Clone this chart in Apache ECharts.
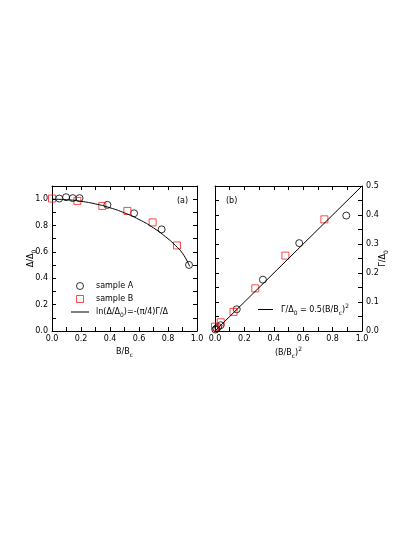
<!DOCTYPE html>
<html>
<head>
<meta charset="utf-8">
<script src="https://cdn.jsdelivr.net/npm/echarts@6/dist/echarts.min.js"></script>
<style>
  html, body { margin: 0; padding: 0; background: #fff; }
  #main { width: 415px; height: 537px; }
</style>
</head>
<body>
<div id="main"></div>
<script>
// panel (a): gap vs field
const bA = [0.05, 0.097, 0.143, 0.19, 0.382, 0.566, 0.756, 0.945]
const gapA = [1.005, 1.015, 1.008, 1.008, 0.957, 0.893, 0.771, 0.501]
const bB = [0.0, 0.175, 0.347, 0.52, 0.694, 0.862]
const gapB = [1.005, 0.987, 0.949, 0.911, 0.824, 0.649]
const fitX = [0, 0.1, 0.2, 0.3, 0.4, 0.5, 0.6, 0.7, 0.8, 0.85, 0.9, 0.95]
const fitY = [1.0, 0.996, 0.984, 0.964, 0.935, 0.896, 0.846, 0.782, 0.7, 0.65, 0.59, 0.49]

// panel (b): broadening vs field squared
const b2A = [0.003, 0.01, 0.021, 0.038, 0.148, 0.326, 0.573, 0.893]
const gamA = [0.005, 0.008, 0.014, 0.02, 0.075, 0.177, 0.303, 0.398]
const b2B = [0.0, 0.039, 0.126, 0.274, 0.479, 0.744]
const gamB = [0.015, 0.03, 0.066, 0.147, 0.26, 0.385]
const lineX = [0, 1]
const lineY = [0, 0.5]

const xTicks = ['0.0', '0.2', '0.4', '0.6', '0.8', '1.0']
const yTicksA = ['0.0', '0.2', '0.4', '0.6', '0.8', '1.0']
const yTicksB = ['0.0', '0.1', '0.2', '0.3', '0.4', '0.5']

const FONT = 'DejaVu Sans'
const RED = '#ff1a1a'

const zip = (xs, ys) => xs.map((x, i) => [x, ys[i]])

// only print the labels that are in the tick list
const pick = (list) => (v) => {
  const s = v.toFixed(1)
  return list.includes(s) && Math.abs(v - parseFloat(s)) < 1e-6 ? s : ''
}

const rich = {
  n: { fontFamily: FONT, fontSize: 8, color: '#000', lineHeight: 13 },
  s: { fontFamily: FONT, fontSize: 6, color: '#000', lineHeight: 6, verticalAlign: 'bottom' },
  p: { fontFamily: FONT, fontSize: 6, color: '#000', lineHeight: 6, verticalAlign: 'top' }
}

function axis(grid, position, opts) {
  return Object.assign({
    type: 'value',
    gridIndex: grid,
    position,
    min: 0,
    max: 1,
    interval: 0.1,
    axisLine: { show: true, onZero: false, lineStyle: { color: '#000', width: 1 } },
    axisTick: { show: true, inside: true, length: 4, lineStyle: { color: '#000', width: 1 } },
    axisLabel: { show: false },
    splitLine: { show: false }
  }, opts)
}

const labelStyle = { show: true, fontFamily: FONT, fontSize: 8, color: '#000', margin: 4 }

const chart = echarts.init(document.getElementById('main'))

const option = {
  backgroundColor: '#fff',
  animation: false,
  grid: [
    { left: 52, top: 186, width: 145, height: 145 },
    { left: 215, top: 186, width: 147, height: 145 }
  ],
  xAxis: [
    axis(0, 'bottom', {
      axisLabel: Object.assign({}, labelStyle, { formatter: pick(xTicks), showMaxLabel: true }),
      name: '{n|B/B}{s|c}',
      nameLocation: 'middle',
      nameGap: 14,
      nameTextStyle: { rich }
    }),
    axis(0, 'top'),
    axis(1, 'bottom', {
      axisLabel: Object.assign({}, labelStyle, { formatter: pick(xTicks), showMaxLabel: true }),
      name: '{n|(B/B}{s|c}{n|)}{p|2}',
      nameLocation: 'middle',
      nameGap: 15,
      nameTextStyle: { rich }
    }),
    axis(1, 'top')
  ],
  yAxis: [
    axis(0, 'left', {
      max: 1.1,
      axisLabel: Object.assign({}, labelStyle, { formatter: pick(yTicksA) }),
      name: '{n|Δ/Δ}{s|0}',
      nameLocation: 'middle',
      nameRotate: 90,
      nameGap: 15,
      nameMoveOverlap: false,
      nameTextStyle: { rich }
    }),
    axis(0, 'right', { max: 1.1 }),
    axis(1, 'left', { max: 0.5, interval: 0.05 }),
    axis(1, 'right', {
      max: 0.5,
      interval: 0.05,
      axisLabel: Object.assign({}, labelStyle, { formatter: pick(yTicksB) }),
      name: '{n|Γ/Δ}{s|0}',
      nameLocation: 'middle',
      nameRotate: 90,
      nameGap: 14,
      nameMoveOverlap: false,
      nameTextStyle: { rich }
    })
  ],
  legend: [
    {
      orient: 'vertical',
      left: 66,
      top: 277,
      itemWidth: 18,
      itemHeight: 7,
      itemGap: 5,
      selectedMode: false,
      data: [
        { name: 'sample A', icon: 'circle', itemStyle: { color: 'rgba(0,0,0,0)', borderColor: '#000', borderWidth: 1 } },
        { name: 'sample B', icon: 'path://M0,0L10,0L10,10L0,10Z', itemStyle: { color: 'rgba(0,0,0,0)', borderColor: RED, borderWidth: 1 } },
        { name: 'fitA', icon: 'path://M0,0L18,0L18,1L0,1Z', itemStyle: { color: '#000', borderWidth: 0 } }
      ],
      formatter: (name) => name === 'fitA' ? '{n|ln(Δ/Δ}{s|0}{n|)=-(π/4)Γ/Δ}' : '{n|' + name + '}',
      textStyle: { rich, padding: [0, 0, 0, 2] }
    },
    {
      left: 253,
      top: 298,
      itemWidth: 15,
      itemHeight: 7,
      selectedMode: false,
      data: [
        { name: 'fitB', icon: 'path://M0,0L15,0L15,1L0,1Z', itemStyle: { color: '#000', borderWidth: 0 } }
      ],
      formatter: () => '{n|Γ/Δ}{s|0}{n| = 0.5(B/B}{s|c}{n|)}{p|2}',
      textStyle: { rich, padding: [0, 0, 0, 3] }
    }
  ],
  graphic: [
    { type: 'text', left: 177, top: 197, style: { text: '(a)', font: '8px "DejaVu Sans"', fill: '#000' } },
    { type: 'text', left: 226, top: 197, style: { text: '(b)', font: '8px "DejaVu Sans"', fill: '#000' } }
  ],
  series: [
    {
      name: 'fitA',
      type: 'line',
      xAxisIndex: 0,
      yAxisIndex: 0,
      smooth: true,
      symbol: 'none',
      lineStyle: { color: '#000', width: 1 },
      itemStyle: { color: '#000' },
      data: zip(fitX, fitY)
    },
    {
      name: 'sample A',
      type: 'scatter',
      xAxisIndex: 0,
      yAxisIndex: 0,
      symbol: 'circle',
      symbolSize: 7,
      itemStyle: { color: 'rgba(0,0,0,0)', borderColor: '#000', borderWidth: 1 },
      data: zip(bA, gapA)
    },
    {
      name: 'sample B',
      type: 'scatter',
      xAxisIndex: 0,
      yAxisIndex: 0,
      symbol: 'rect',
      symbolSize: 7,
      itemStyle: { color: 'rgba(0,0,0,0)', borderColor: RED, borderWidth: 1 },
      data: zip(bB, gapB)
    },
    {
      name: 'fitB',
      type: 'line',
      xAxisIndex: 2,
      yAxisIndex: 3,
      symbol: 'none',
      lineStyle: { color: '#000', width: 1 },
      itemStyle: { color: '#000' },
      data: zip(lineX, lineY)
    },
    {
      name: 'sample A',
      type: 'scatter',
      xAxisIndex: 2,
      yAxisIndex: 3,
      symbol: 'circle',
      symbolSize: 7,
      itemStyle: { color: 'rgba(0,0,0,0)', borderColor: '#000', borderWidth: 1 },
      data: zip(b2A, gamA)
    },
    {
      name: 'sample B',
      type: 'scatter',
      xAxisIndex: 2,
      yAxisIndex: 3,
      symbol: 'rect',
      symbolSize: 7,
      itemStyle: { color: 'rgba(0,0,0,0)', borderColor: RED, borderWidth: 1 },
      data: zip(b2B, gamB)
    }
  ]
}

chart.setOption(option)
</script>
</body>
</html>
